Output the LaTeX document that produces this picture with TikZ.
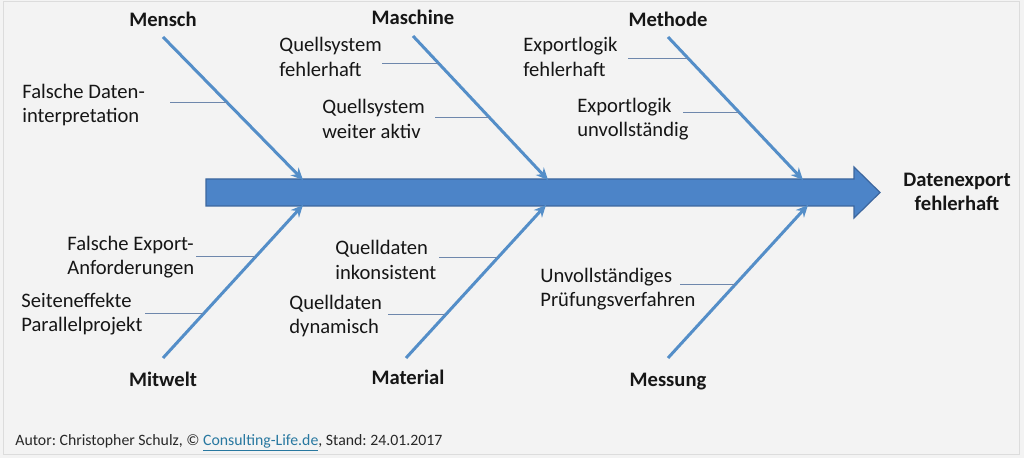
\documentclass[tikz,border=0pt]{standalone}
\usepackage{fontspec}
\setmainfont{Carlito}
\usetikzlibrary{arrows.meta}
\frenchspacing
\definecolor{bg}{RGB}{243,243,243}
\definecolor{framec}{RGB}{220,220,220}
\definecolor{spine}{RGB}{76,132,200}
\definecolor{spineedge}{RGB}{60,102,158}
\definecolor{bone}{RGB}{84,142,200}
\definecolor{twig}{RGB}{110,135,172}
\definecolor{txt}{RGB}{22,22,22}
\definecolor{linkc}{RGB}{40,120,160}
\begin{document}
\begin{tikzpicture}[x=0.5pt,y=-0.5pt,
  cause/.style={font=\fontsize{10.3}{12.2}\selectfont, align=left, inner sep=0pt, anchor=west, text=txt},
  cat/.style={font=\fontsize{10.3}{12.2}\selectfont\bfseries, inner sep=0pt, text=txt, align=center},
  catlabel/.style={cat, text height=7pt, text depth=0pt},
  bonearrow/.style={draw=bone, line width=1.5pt, -{Stealth[length=6pt,width=5.5pt]}},
  twigline/.style={draw=twig, line width=0.5pt},
  footer/.style={font=\fontsize{7.9}{9.5}\selectfont, inner sep=0pt, anchor=west, text={rgb,255:red,40;green,40;blue,40}}]
\useasboundingbox (0,0) rectangle (1024,458);
\fill[bg] (0,0) rectangle (1024,458);
\draw[framec, line width=0.5pt] (3,2) rectangle (1019,455);

% main spine
\draw[fill=spine, draw=spineedge, line width=0.6pt]
  (206,179) -- (854,179) -- (854,167) -- (880,192.5) -- (854,218) -- (854,206) -- (206,206) -- cycle;
\node[cat] (effect) at (957,192) {Datenexport\\fehlerhaft};

% category labels
\node[catlabel] (mensch) at (163,20) {Mensch};
\node[catlabel] (maschine) at (413,18) {Maschine};
\node[catlabel] (methode) at (668,20) {Methode};
\node[catlabel] (mitwelt) at (163,380) {Mitwelt};
\node[catlabel] (material) at (408,378) {Material};
\node[catlabel] (messung) at (668,380) {Messung};

% bone coordinates
\coordinate (b1s) at (163,37);  \coordinate (b1e) at (303,180);
\coordinate (b2s) at (413,36);  \coordinate (b2e) at (548,180);
\coordinate (b3s) at (668,37);  \coordinate (b3e) at (803,180);
\coordinate (b4s) at (163,358); \coordinate (b4e) at (303,205);
\coordinate (b5s) at (406,358); \coordinate (b5e) at (546,205);
\coordinate (b6s) at (668,358); \coordinate (b6e) at (808,205);

\draw[bonearrow] (b1s) -- (b1e);
\draw[bonearrow] (b2s) -- (b2e);
\draw[bonearrow] (b3s) -- (b3e);
\draw[bonearrow] (b4s) -- (b4e);
\draw[bonearrow] (b5s) -- (b5e);
\draw[bonearrow] (b6s) -- (b6e);

% causes
\node[cause] (c1) at (22,105) {Falsche Daten-\\interpretation};
\node[cause] (c2) at (279,57) {Quellsystem\\fehlerhaft};
\node[cause] (c3) at (322,119) {Quellsystem\\weiter aktiv};
\node[cause] (c4) at (523,57) {Exportlogik\\fehlerhaft};
\node[cause] (c5) at (577,119) {Exportlogik\\unvollständig};
\node[cause] (c6) at (67,257) {Falsche Export-\\Anforderungen};
\node[cause] (c7) at (21,314) {Seiteneffekte\\Parallelprojekt};
\node[cause] (c8) at (335,260) {Quelldaten\\inkonsistent};
\node[cause] (c9) at (289,316) {Quelldaten\\dynamisch};
\node[cause] (c10) at (540,289) {Unvollständiges\\Prüfungsverfahren};

% twigs
\coordinate (t1s) at (170,103);  \coordinate (t1e) at (227,103);
\coordinate (t2s) at (382,64);   \coordinate (t2e) at (439,64);
\coordinate (t3s) at (435,118);  \coordinate (t3e) at (489,118);
\coordinate (t4s) at (628,59);   \coordinate (t4e) at (688,59);
\coordinate (t5s) at (683,113);  \coordinate (t5e) at (739,113);
\coordinate (t6s) at (196,257);  \coordinate (t6e) at (255,257);
\coordinate (t7s) at (145,314);  \coordinate (t7e) at (203,314);
\coordinate (t8s) at (439,258);  \coordinate (t8e) at (497,258);
\coordinate (t9s) at (388,315);  \coordinate (t9e) at (445,315);
\coordinate (t10s) at (680,285); \coordinate (t10e) at (735,285);
\foreach \i in {1,...,10} {\draw[twigline] (t\i s) -- (t\i e);}

% footer
\node[footer] (foot) at (15,443) {Autor: Christopher Schulz, © \textcolor{linkc}{\underline{Consulting-Life.de}}, Stand: 24.01.2017};
\end{tikzpicture}
\end{document}
